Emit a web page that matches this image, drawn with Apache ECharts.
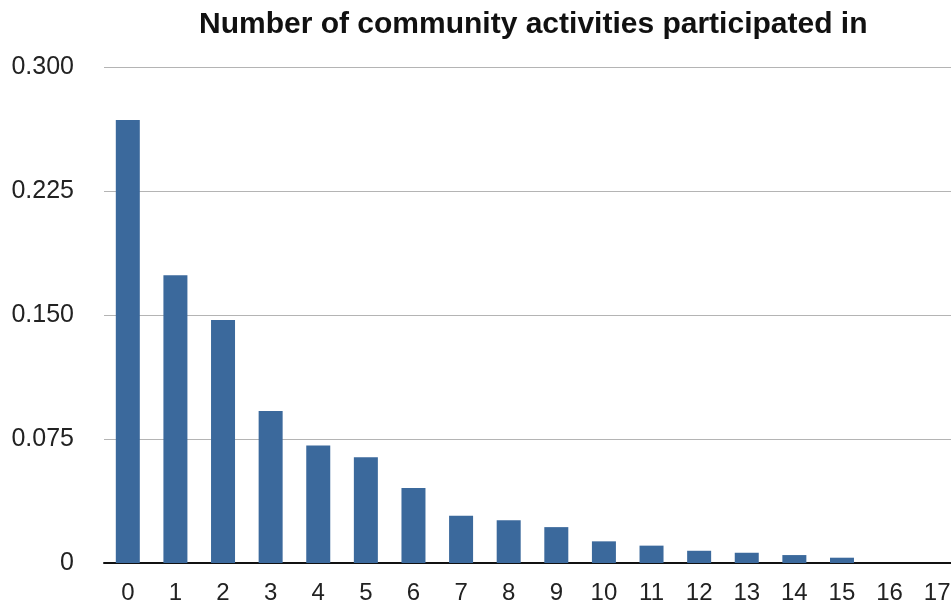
<!DOCTYPE html>
<html>
<head>
<meta charset="utf-8">
<script src="https://cdn.jsdelivr.net/npm/echarts@6/dist/echarts.min.js"></script>
<style>html,body{margin:0;padding:0;background:#fff;}#c{width:951px;height:607px;}</style>
</head>
<body>
<div id="c"></div>
<script>
const categories = ['0','1','2','3','4','5','6','7','8','9','10','11','12','13','14','15','16','17'];
const shares = [0.268, 0.174, 0.147, 0.092, 0.071, 0.064, 0.0454, 0.0286, 0.0258, 0.0217, 0.0131, 0.0105, 0.0074, 0.0062, 0.0048, 0.0032, 0, 0];
const yTickLabels = ['0', '0.075', '0.150', '0.225', '0.300'];
const titleText = 'Number of community activities participated in';

const chart = echarts.init(document.getElementById('c'), null, {renderer: 'canvas'});
chart.setOption({
  animation: false,
  backgroundColor: '#ffffff',
  title: {
    text: titleText,
    left: 194,
    top: 5,
    textStyle: {fontFamily: 'Liberation Sans, Arial, sans-serif', fontWeight: 'bold', fontSize: 30, color: '#111'}
  },
  grid: {left: 104, right: -10, top: 67, bottom: 44, outerBoundsMode: 'none', containLabel: false},
  xAxis: {
    type: 'category',
    data: categories,
    axisLine: {show: true, lineStyle: {color: '#111', width: 2}},
    axisTick: {show: false},
    axisLabel: {fontFamily: 'Liberation Sans, Arial, sans-serif', fontSize: 24, color: '#222', margin: 18, interval: 0}
  },
  yAxis: {
    type: 'value',
    min: 0, max: 0.3, interval: 0.075,
    axisLine: {show: false},
    axisTick: {show: false},
    splitLine: {lineStyle: {color: '#b4b4b4', width: 1}},
    axisLabel: {
      fontFamily: 'Liberation Sans, Arial, sans-serif', fontSize: 25, color: '#222', margin: 30,
      padding: [5, 0, 0, 0],
      formatter: function (v) { return yTickLabels[Math.round(v / 0.075)]; }
    }
  },
  series: [{
    type: 'bar',
    data: shares,
    barWidth: 24,
    itemStyle: {color: '#3b699c'}
  }]
});
</script>
</body>
</html>
